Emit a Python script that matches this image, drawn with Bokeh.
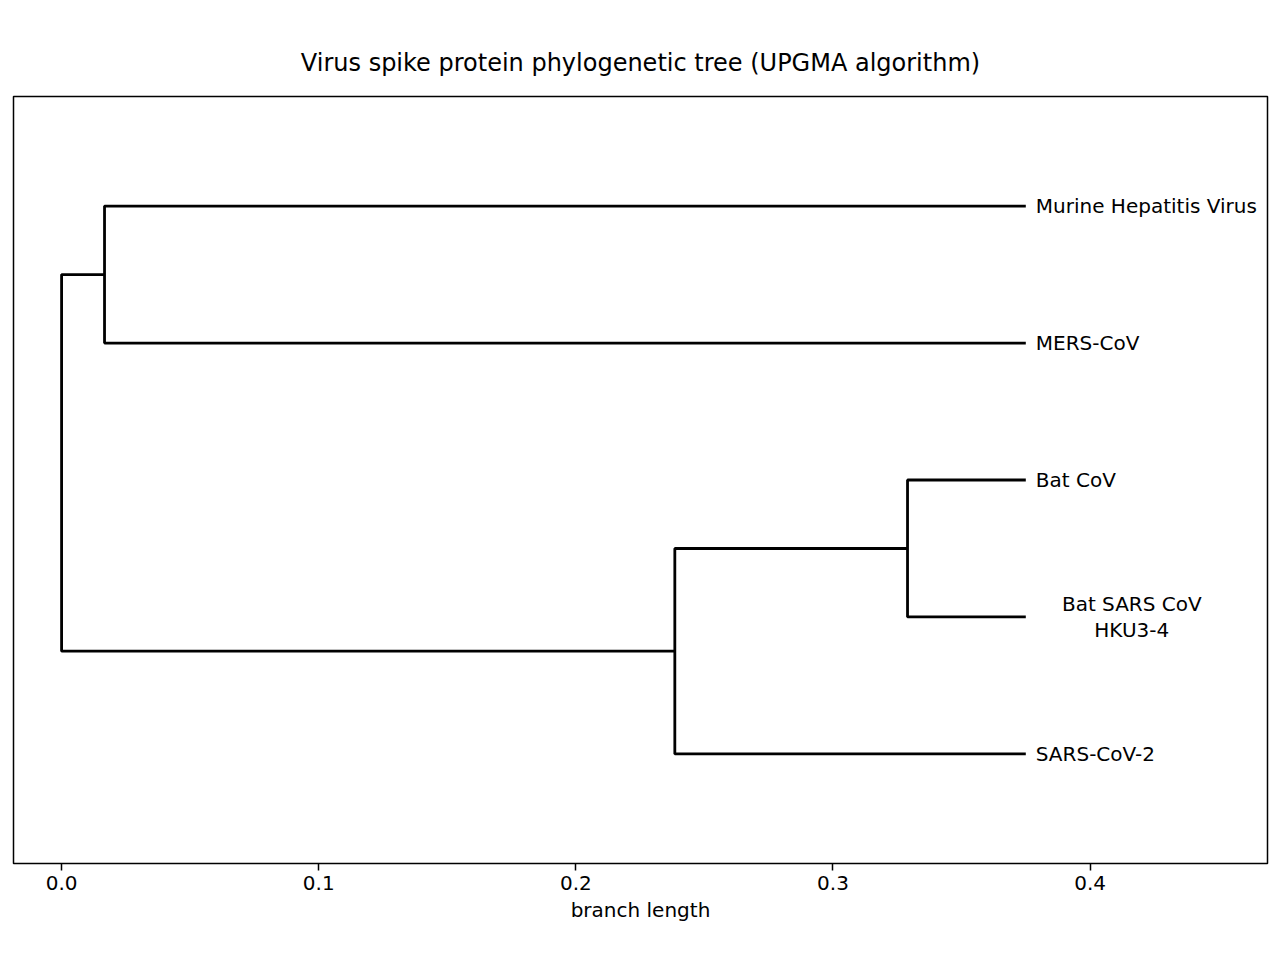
from bokeh.plotting import figure
from bokeh.models import Range1d, FixedTicker
from bokeh.embed import file_html
from bokeh.resources import INLINE

# leaves, top to bottom
leaves = ["Murine Hepatitis Virus", "MERS-CoV", "Bat CoV", "Bat SARS CoV\nHKU3-4", "SARS-CoV-2"]
leaf_height = 0.375
# joins: (left child, right child, node x)
joins = [
    ("Murine Hepatitis Virus", "MERS-CoV", 0.0167),
    ("Bat CoV", "Bat SARS CoV\nHKU3-4", 0.329),
    ("Bat CoV+Bat SARS CoV\nHKU3-4", "SARS-CoV-2", 0.2385),
    ("Murine Hepatitis Virus+MERS-CoV", "Bat CoV+Bat SARS CoV\nHKU3-4+SARS-CoV-2", 0.0),
]

FONT = "DejaVu Sans"

pos = {}
for i, name in enumerate(leaves):
    pos[name] = (leaf_height, len(leaves) - 1 - i)

xs, ys = [], []
for a, b, h in joins:
    ax, ay = pos[a]
    bx, by = pos[b]
    xs.append([ax, h, h, bx])
    ys.append([ay, ay, by, by])
    pos[a + "+" + b] = (h, (ay + by) / 2)

p = figure(width=1280, height=960, output_backend="svg", toolbar_location=None,
           x_range=Range1d(-0.0187, 0.469), y_range=Range1d(-0.80, 4.80),
           min_border_left=13, min_border_right=13, min_border_top=96, min_border_bottom=97)
p.multi_line(xs, ys, line_color="black", line_width=2.8)

single = [n for n in leaves if "\n" not in n]
multi = [n for n in leaves if "\n" in n]
p.text(x=[leaf_height] * len(single), y=[pos[n][1] for n in single], text=single,
       x_offset=10, text_align="left", text_baseline="middle",
       text_font_size="20px", text_color="black", text_font={"value": FONT})
p.text(x=[leaf_height] * len(multi), y=[pos[n][1] for n in multi], text=multi,
       x_offset=106, text_align="center", text_baseline="middle",
       text_font_size="20px", text_color="black", text_line_height=1.1,
       text_font={"value": FONT})

p.title.text = "Virus spike protein phylogenetic tree (UPGMA algorithm)"
p.title.align = "center"
p.title.text_font_size = "24px"
p.title.text_font_style = "normal"
p.title.text_font = FONT
p.title.text_color = "black"
p.title.standoff = 40

p.yaxis.visible = False
p.xgrid.visible = False
p.ygrid.visible = False
p.outline_line_color = "black"
p.outline_line_width = 1.5
p.xaxis.ticker = FixedTicker(ticks=[0.0, 0.1, 0.2, 0.3, 0.4])
p.xaxis.major_label_overrides = {0.0: "0.0", 0.1: "0.1", 0.2: "0.2", 0.3: "0.3", 0.4: "0.4"}
p.xaxis.minor_tick_line_color = None
p.xaxis.major_tick_out = 7
p.xaxis.major_tick_in = 0
p.xaxis.major_tick_line_width = 1.5
p.xaxis.major_tick_line_color = "black"
p.xaxis.axis_line_color = None
p.xaxis.major_label_text_font_size = "20px"
p.xaxis.major_label_text_font = FONT
p.xaxis.major_label_text_color = "black"
p.xaxis.axis_label = "branch length"
p.xaxis.axis_label_text_font_size = "20px"
p.xaxis.axis_label_text_font = FONT
p.xaxis.axis_label_text_color = "black"
p.xaxis.axis_label_text_font_style = "normal"

open("out.html", "w").write(file_html(p, INLINE))
